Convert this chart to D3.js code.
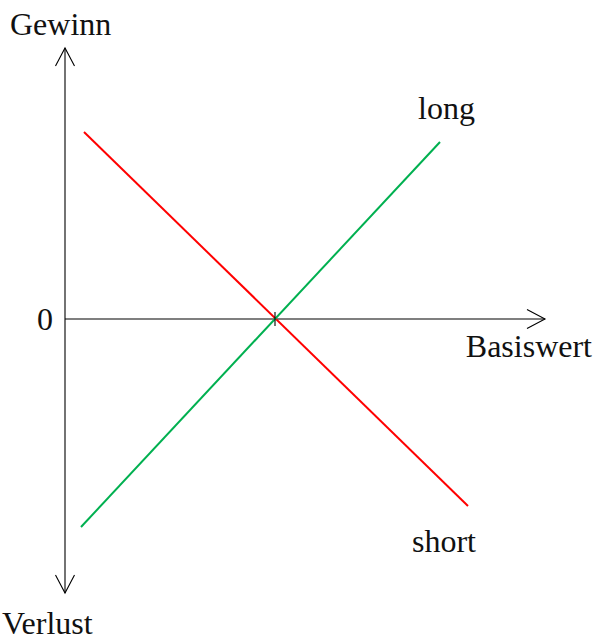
<!DOCTYPE html>
<html lang="de">
<head>
<meta charset="UTF-8" />
<title>Gewinn / Verlust</title>
<script src="https://cdn.jsdelivr.net/npm/d3@7"></script>
<style>
  body { margin: 0; background: #fff; }
  text { font-family: "Liberation Serif", "DejaVu Serif", serif; fill: #111; }
</style>
</head>
<body>
<div id="chart"></div>
<script>
// payoff lines, underlying on x (strike = 0), profit on y
var longX = [-3.88, 3.3];
var longY = [-4.16, 3.54];
var shortX = [-3.82, 3.86];
var shortY = [3.74, -3.74];
var strike = 0;

var w = 594, h = 642;

var svg = d3.select("#chart").append("svg")
  .attr("width", w)
  .attr("height", h);

var xScale = d3.scaleLinear().domain([-4.2, 5.4]).range([65, 545]);
var yScale = d3.scaleLinear().domain([-5.48, 5.42]).range([593, 48]);

var x0 = xScale(-4.2), yTop = yScale(5.42), yBot = yScale(-5.48);
var y0 = yScale(0), xEnd = xScale(5.4);

// vertical axis (Gewinn / Verlust)
svg.append("line")
  .attr("x1", x0).attr("x2", x0)
  .attr("y1", yTop).attr("y2", yBot)
  .attr("stroke", "#000").attr("stroke-width", 1.1);

// horizontal axis (Basiswert)
svg.append("line")
  .attr("x1", x0).attr("x2", xEnd)
  .attr("y1", y0).attr("y2", y0)
  .attr("stroke", "#000").attr("stroke-width", 1.1);

// open arrow heads
function arrow(tx, ty, dx, dy) {
  var back = 18, half = 9.5;
  var px = -dy, py = dx;
  var p = d3.path();
  p.moveTo(tx - dx * back + px * half, ty - dy * back + py * half);
  p.lineTo(tx, ty);
  p.lineTo(tx - dx * back - px * half, ty - dy * back - py * half);
  svg.append("path").attr("d", p.toString())
    .attr("fill", "none").attr("stroke", "#000").attr("stroke-width", 1.1);
}
arrow(x0, yTop, 0, -1);
arrow(x0, yBot, 0, 1);
arrow(xEnd, y0, 1, 0);

var line = d3.line()
  .x(function(d) { return xScale(d[0]); })
  .y(function(d) { return yScale(d[1]); });

svg.append("path")
  .datum(d3.zip(shortX, shortY))
  .attr("d", line)
  .attr("fill", "none")
  .attr("stroke", "#ff0000")
  .attr("stroke-width", 2);

svg.append("path")
  .datum(d3.zip(longX, longY))
  .attr("d", line)
  .attr("fill", "none")
  .attr("stroke", "#00b050")
  .attr("stroke-width", 2);

// strike tick, on top of the lines
svg.append("line")
  .attr("x1", xScale(strike)).attr("x2", xScale(strike))
  .attr("y1", y0 - 7).attr("y2", y0 + 7)
  .attr("stroke", "#000").attr("stroke-width", 1.1);

// labels
var fs = "32px";
svg.append("text").attr("x", 10).attr("y", 35).style("font-size", fs).text("Gewinn");
svg.append("text").attr("x", 2).attr("y", 634).style("font-size", fs).text("Verlust");
svg.append("text").attr("x", 53).attr("y", 330).attr("text-anchor", "end").style("font-size", fs).text("0");
svg.append("text").attr("x", 592).attr("y", 357).attr("text-anchor", "end").style("font-size", fs).text("Basiswert");
svg.append("text").attr("x", 418).attr("y", 119).style("font-size", fs).text("long");
svg.append("text").attr("x", 412).attr("y", 552).style("font-size", fs).text("short");
</script>
</body>
</html>
